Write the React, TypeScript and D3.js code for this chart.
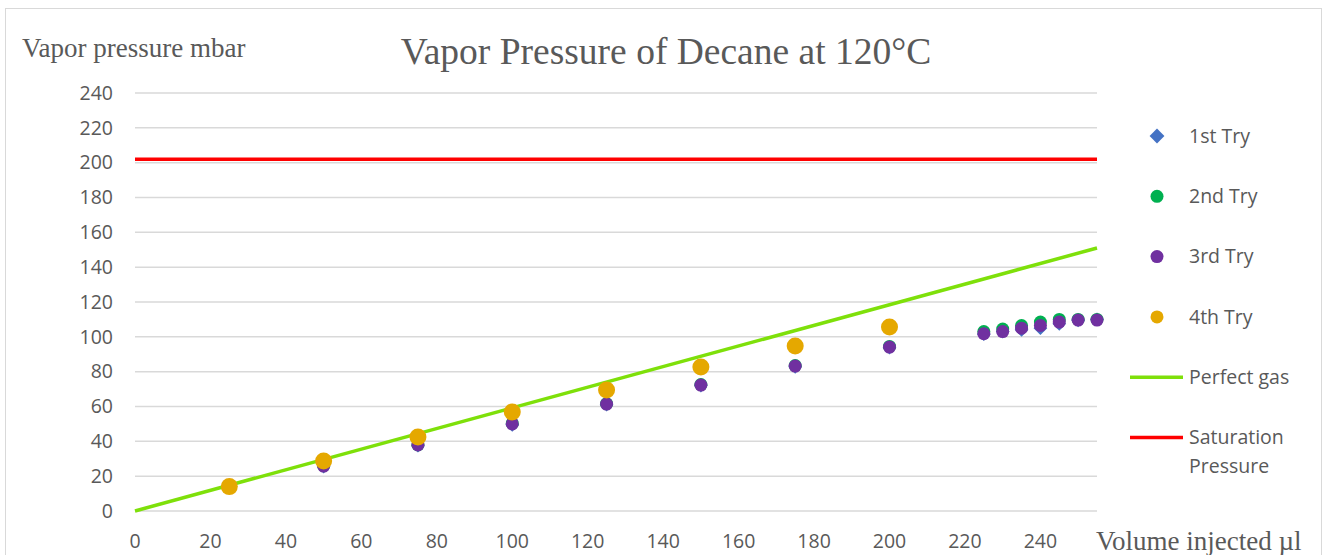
import React from 'react';
import * as d3 from 'd3';

// injected volume (µl) for each measured point
const volumes = [25, 50, 75, 100, 125, 150, 175, 200, 225, 230, 235, 240, 245, 250, 255];
const volumes4 = [25, 50, 75, 100, 125, 150, 175, 200];

const try1 = [13.5, 25.5, 37.5, 49.5, 61, 72, 82.8, 93.8, 101.5, 103, 104, 105, 107.5, 109.5, 110];
const try2 = [13.8, 26, 38, 50.3, 61.6, 72.6, 83.5, 94.5, 103, 104.5, 106.5, 108.5, 110, 110, 110];
const try3 = [13.6, 25.8, 37.9, 50, 61.4, 72.3, 83.2, 94.1, 101.8, 103, 105, 106.5, 108.5, 109.6, 109.6];
const try4 = [14, 28.7, 42.5, 56.8, 69.5, 82.7, 94.7, 105.6];

const perfectGas: [number, number][] = [[0, 0], [255, 151]];
const saturation = 202;

const xTicks = [0, 20, 40, 60, 80, 100, 120, 140, 160, 180, 200, 220, 240];
const yTicks = [0, 20, 40, 60, 80, 100, 120, 140, 160, 180, 200, 220, 240];

const legendItems = [
  { label: ['1st Try'], kind: 'diamond', color: '#4472C4' },
  { label: ['2nd Try'], kind: 'circle', color: '#00B050' },
  { label: ['3rd Try'], kind: 'circle', color: '#7030A0' },
  { label: ['4th Try'], kind: 'circle', color: '#E5A800' },
  { label: ['Perfect gas'], kind: 'line', color: '#7EE00A' },
  { label: ['Saturation', 'Pressure'], kind: 'line', color: '#FF0000' },
];

const W = 1327;
const H = 555;
const textColor = '#595959';
const sans = '"Open Sans", sans-serif';
const serif = '"Liberation Serif", "Times New Roman", serif';

export default function App() {
  const x = d3.scaleLinear().domain([0, 255]).range([135, 1097]);
  const y = d3.scaleLinear().domain([0, 240]).range([511, 93]);
  const line = d3.line<[number, number]>().x(d => x(d[0])).y(d => y(d[1]));
  const diamond = d3.symbol().type(d3.symbolDiamond2).size(120)();
  const legendDiamond = d3.symbol().type(d3.symbolDiamond2).size(140)();

  const dots = (xs: number[], vs: number[], color: string, r: number) =>
    vs.map((v, i) => <circle key={i} cx={x(xs[i])} cy={y(v)} r={r} fill={color} />);

  return (
    <svg width={W} height={H} style={{ position: 'absolute', left: 0, top: 0, background: '#fff' }}>
      <rect x={5.5} y={8.5} width={1316} height={560} fill="#fff" stroke="#d9d9d9" />

      {/* grid */}
      {yTicks.map(t => (
        <g key={t}>
          <line x1={x(0)} x2={x(255)} y1={y(t)} y2={y(t)} stroke="#d9d9d9" strokeWidth={1.5} />
          <text x={113} y={y(t)} dy="0.35em" textAnchor="end" fontFamily={sans} fontSize={19.5} fill={textColor}>{t}</text>
        </g>
      ))}
      {xTicks.map(t => (
        <text key={t} x={x(t)} y={548} textAnchor="middle" fontFamily={sans} fontSize={19.5} fill={textColor}>{t}</text>
      ))}

      {/* series */}
      <path d={line([[0, saturation], [255, saturation]]) || ''} stroke="#FF0000" strokeWidth={3.5} fill="none" />
      <path d={line(perfectGas) || ''} stroke="#7EE00A" strokeWidth={3.5} fill="none" />
      {try1.map((v, i) => (
        <path key={i} d={diamond || ''} transform={`translate(${x(volumes[i])},${y(v)})`} fill="#4472C4" />
      ))}
      {dots(volumes, try2, '#00B050', 6.5)}
      {dots(volumes, try3, '#7030A0', 6.5)}
      {dots(volumes4, try4, '#E5A800', 8.5)}

      {/* titles */}
      <text x={666} y={64} textAnchor="middle" fontFamily={serif} fontSize={37.5} fill={textColor}>Vapor Pressure of Decane at 120°C</text>
      <text x={22} y={57} fontFamily={serif} fontSize={27} fill={textColor}>Vapor pressure mbar</text>
      <text x={1096} y={550} fontFamily={serif} fontSize={27} fill={textColor}>Volume injected µl</text>

      {/* legend */}
      {legendItems.map((it, i) => {
        const cy = 136 + i * 60.3;
        return (
          <g key={i}>
            {it.kind === 'diamond' && <path d={legendDiamond || ''} transform={`translate(1157,${cy})`} fill={it.color} />}
            {it.kind === 'circle' && <circle cx={1157} cy={cy} r={6.5} fill={it.color} />}
            {it.kind === 'line' && <line x1={1130} x2={1183} y1={cy} y2={cy} stroke={it.color} strokeWidth={3.5} />}
            {it.label.map((s, j) => (
              <text key={j} x={1189} y={cy + j * 29} dy="0.35em" fontFamily={sans} fontSize={19.5} fill={textColor}>{s}</text>
            ))}
          </g>
        );
      })}
    </svg>
  );
}
